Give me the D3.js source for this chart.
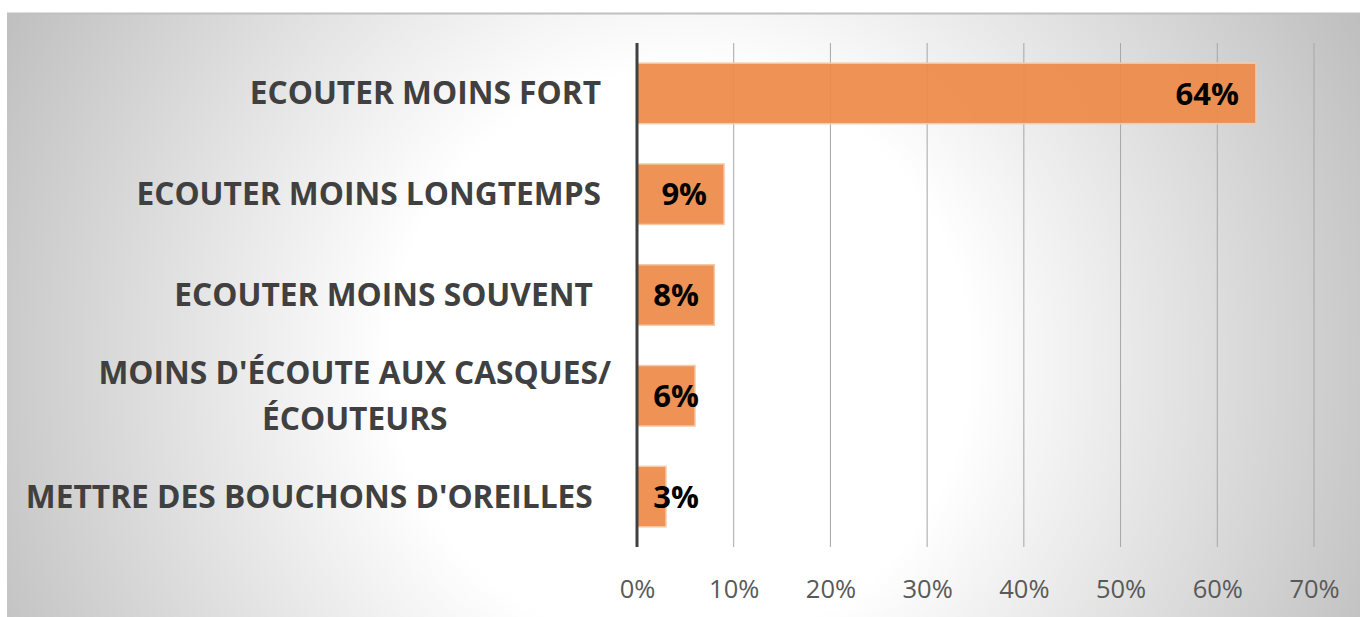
<!DOCTYPE html>
<html>
<head>
<meta charset="utf-8">
<script src="https://cdn.jsdelivr.net/npm/d3@7"></script>
<style>
  body { margin: 0; background: #ffffff; }
  svg { display: block; }
</style>
</head>
<body>
<svg id="chart" width="1360" height="617"></svg>
<script>
// categories, top to bottom (trailing spaces kept as in the source)
var categories = [
    "ECOUTER MOINS FORT",
    "ECOUTER MOINS LONGTEMPS",
    "ECOUTER MOINS SOUVENT ",
    "MOINS D'ÉCOUTE AUX CASQUES/\nÉCOUTEURS",
    "METTRE DES BOUCHONS D'OREILLES "
];
var values = [0.64, 0.09, 0.08, 0.06, 0.03];
var valueLabels = ["64%", "9%", "8%", "6%", "3%"];
var xTicks = [0, 0.1, 0.2, 0.3, 0.4, 0.5, 0.6, 0.7];

var svg = d3.select("#chart"),
    W = +svg.attr("width"),
    H = +svg.attr("height"),
    margin = {top: 43, right: 46, bottom: 70, left: 637};

var x = d3.scaleLinear()
    .domain([0, 0.7])
    .range([margin.left, W - margin.right]);

var y = d3.scaleBand()
    .domain(categories)
    .range([margin.top, H - margin.bottom])
    .paddingInner(0.4)
    .paddingOuter(0.2);

// background panel with radial gradient
var defs = svg.append("defs");
var grad = defs.append("radialGradient")
    .attr("id", "bg")
    .attr("gradientUnits", "userSpaceOnUse")
    .attr("cx", 680).attr("cy", 360).attr("r", 780);
grad.append("stop").attr("offset", "0.37").attr("stop-color", "#ffffff");
grad.append("stop").attr("offset", "1").attr("stop-color", "#bcbcbc");

svg.append("rect")
    .attr("x", 7).attr("y", 13)
    .attr("width", W - 7).attr("height", H - 13)
    .attr("fill", "url(#bg)");
svg.append("line")
    .attr("x1", 7).attr("x2", W)
    .attr("y1", 13.5).attr("y2", 13.5)
    .attr("stroke", "#c0c0c0").attr("stroke-width", 2);

// vertical gridlines
svg.append("g")
    .selectAll("line")
    .data(xTicks.slice(1))
    .enter().append("line")
    .attr("x1", function(d) { return x(d); })
    .attr("x2", function(d) { return x(d); })
    .attr("y1", margin.top)
    .attr("y2", H - margin.bottom)
    .attr("stroke", "#a6a6a6")
    .attr("stroke-width", 1);

// bars
svg.append("g")
    .selectAll("rect")
    .data(values)
    .enter().append("rect")
    .attr("x", x(0))
    .attr("y", function(d, i) { return y(categories[i]); })
    .attr("width", function(d) { return x(d) - x(0); })
    .attr("height", y.bandwidth())
    .attr("fill", "#ed8b48")
    .attr("fill-opacity", 0.93)
    .attr("stroke", "#f6c9a6")
    .attr("stroke-width", 1.5);

// category axis line
svg.append("line")
    .attr("x1", x(0)).attr("x2", x(0))
    .attr("y1", margin.top).attr("y2", H - margin.bottom)
    .attr("stroke", "#404040")
    .attr("stroke-width", 3);

// x axis tick labels
var xAxis = svg.append("g")
    .attr("transform", "translate(0," + (H - margin.bottom) + ")")
    .call(d3.axisBottom(x).tickValues(xTicks).tickFormat(d3.format(".0%")).tickSize(0).tickPadding(33));
xAxis.select(".domain").remove();
xAxis.selectAll("text")
    .attr("fill", "#595959")
    .style("font-family", "'Open Sans', sans-serif")
    .style("font-size", "25.5px");

// category labels
var labelRight = x(0) - 36;
var catG = svg.append("g")
    .style("font-family", "'Open Sans', sans-serif")
    .style("font-weight", "bold")
    .style("font-size", "31.7px")
    .attr("fill", "#404040");

categories.forEach(function(c, i) {
    var lines = c.split("\n");
    var cy = y(c) + y.bandwidth() / 2;
    if (lines.length == 1) {
        catG.append("text")
            .attr("x", labelRight)
            .attr("y", cy)
            .attr("dy", "0.35em")
            .attr("text-anchor", "end")
            .style("white-space", "pre")
            .text(c);
    } else {
        // wrapped label: lines centred in a right-aligned block
        var first = catG.append("text")
            .attr("x", labelRight + 10)
            .attr("y", cy - 23)
            .attr("dy", "0.35em")
            .attr("text-anchor", "end")
            .text(lines[0]);
        var w = first.node().getComputedTextLength();
        catG.append("text")
            .attr("x", labelRight + 10 - w / 2)
            .attr("y", cy + 23)
            .attr("dy", "0.35em")
            .attr("text-anchor", "middle")
            .text(lines[1]);
    }
});

// value labels, inside end
svg.append("g")
    .selectAll("text")
    .data(values)
    .enter().append("text")
    .attr("x", function(d) { return Math.max(x(d) - 17, x(0) + 62); })
    .attr("y", function(d, i) { return y(categories[i]) + y.bandwidth() / 2; })
    .attr("dy", "0.36em")
    .attr("text-anchor", "end")
    .style("font-family", "'Open Sans', sans-serif")
    .style("font-weight", "bold")
    .style("font-size", "31px")
    .attr("fill", "#000000")
    .text(function(d, i) { return valueLabels[i]; });
</script>
</body>
</html>
